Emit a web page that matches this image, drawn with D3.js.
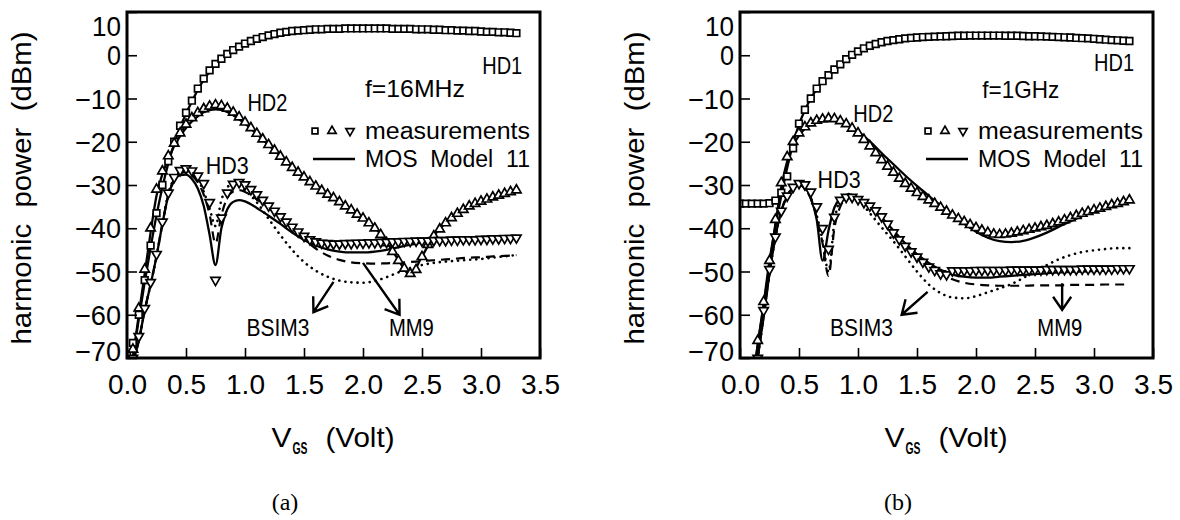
<!DOCTYPE html>
<html><head><meta charset="utf-8">
<script src="https://cdn.jsdelivr.net/npm/d3@7"></script>
<style>
body{margin:0;background:#fff;}
svg text{font-family:"Liberation Sans",Arial,sans-serif;fill:#000;white-space:pre;}
</style></head><body>
<svg id="c" width="1180" height="520"></svg>
<script>
// ---------- DATA ----------
const xTicks = [0.0,0.5,1.0,1.5,2.0,2.5,3.0,3.5];
const yTicks = [10,0,-10,-20,-30,-40,-50,-60,-70];

// measurement gate voltages (V)
const vgs = [0,0.05,0.1,0.15,0.2,0.25,0.3,0.35,0.4,0.45,
 0.5,0.55,0.6,0.65,0.7,0.75,0.8,0.85,0.9,0.95,
 1.0,1.05,1.1,1.15,1.2,1.25,1.3,1.35,1.4,1.45,
 1.5,1.55,1.6,1.65,1.7,1.75,1.8,1.85,1.9,1.95,
 2.0,2.05,2.1,2.15,2.2,2.25,2.3,2.35,2.4,2.45,
 2.5,2.55,2.6,2.65,2.7,2.75,2.8,2.85,2.9,2.95,
 3.0,3.05,3.1,3.15,3.2,3.25,3.3];
// simulation gate voltages (V)
const vModel = [0.05,0.1,0.15,0.2,0.25,0.3,0.35,0.4,0.45,0.5,
 0.55,0.6,0.65,0.7,0.75,0.8,0.85,0.9,0.95,1.0,
 1.1,1.2,1.3,1.4,1.5,1.6,1.7,1.8,1.9,2.0,
 2.1,2.2,2.3,2.4,2.5,2.6,2.7,2.8,2.9,3.0,
 3.1,3.2,3.3];

// ---- (a) f = 16 MHz : measurements ----
const measHD1_a = [-69.5,-66.5,-60,-52,-44,-36.5,-30,-24.5,-20,-16.3,
 -13.3,-10.5,-7.7,-5.4,-3.5,-2,-0.8,0.3,1.2,2.0,
 2.7,3.3,3.8,4.2,4.6,4.9,5.2,5.4,5.6,5.7,
 5.8,5.9,6.0,6.0,6.1,6.1,6.1,6.2,6.2,6.2,
 6.2,6.2,6.2,6.2,6.2,6.1,6.1,6.1,6.1,6.0,
 6.0,6.0,5.9,5.9,5.8,5.8,5.7,5.7,5.6,5.6,
 5.5,5.4,5.4,5.3,5.3,5.2,5.1];
const measHD2_a = [-71,-68,-58.5,-49.5,-40,-31,-26.8,-23.3,-20.4,-18,
 -16,-14.5,-13.3,-12.4,-11.8,-11.5,-11.7,-12.3,-13.2,-14.3,
 -15.5,-16.8,-18.1,-19.4,-20.7,-22,-23.4,-24.7,-26,-27.1,
 -28.2,-29.3,-30.3,-31.3,-32.2,-33,-33.9,-34.9,-35.8,-36.8,
 -37.7,-38.8,-40,-41.5,-43.4,-45.4,-47.5,-49.3,-50.5,-49.6,
 -46.6,-43.8,-41.8,-40.2,-38.8,-37.6,-36.6,-35.7,-34.9,-34.3,
 -33.8,-33.3,-32.8,-32.4,-32,-31.6,-31.2];
const measHD3_a = [-71,-70,-65,-58.5,-52.5,-46,-38.5,-31.8,-28.2,-26.6,
 -26.2,-26.7,-27.9,-29.6,-34,-52,-37.6,-31.8,-29.8,-29.4,
 -29.9,-31,-32.2,-33.5,-34.8,-36,-37.3,-38.5,-39.7,-40.8,
 -41.8,-42.6,-43.1,-43.4,-43.5,-43.6,-43.6,-43.5,-43.5,-43.4,
 -43.4,-43.3,-43.3,-43.2,-43.2,-43.1,-43.1,-43,-43,-42.9,
 -42.9,-42.9,-42.8,-42.8,-42.8,-42.7,-42.7,-42.6,-42.6,-42.6,
 -42.5,-42.5,-42.4,-42.4,-42.3,-42.3,-42.2];
// ---- (a) simulations ----
const mos11HD1_a = [-70,-61,-52.5,-44.5,-37,-30.5,-25,-20.5,-16.7,-13.5,
 -10.7,-8,-5.7,-3.8,-2.2,-1,0.1,1.0,1.8,2.5,
 3.7,4.5,5.1,5.5,5.8,6.0,6.1,6.15,6.2,6.2,
 6.2,6.15,6.1,6.05,6.0,5.9,5.8,5.7,5.6,5.5,
 5.4,5.3,5.1];
const mos11HD2_a = [-70,-60,-50.5,-41,-32.5,-27.5,-24,-21,-18.7,-16.8,
 -15.3,-14.1,-13.2,-12.7,-12.5,-12.6,-13.1,-13.9,-14.8,-15.8,
 -18.2,-20.8,-23.3,-25.8,-28,-30.1,-32,-33.8,-35.6,-37.5,
 -39.8,-43.2,-47.3,-50.8,-46.5,-41.8,-38.8,-36.6,-35,-33.8,
 -32.8,-32,-31.3];
const mos11HD3_a = [-71,-66,-59,-53,-46.5,-39,-32.5,-29,-27.7,-27.6,
 -28.6,-30.8,-34.8,-41.5,-48.5,-40,-35.6,-33.9,-33.5,-33.8,
 -35.3,-37.1,-39,-41,-42.7,-44,-44.9,-45.4,-45.6,-45.6,
 -45.4,-45,-44.4,-43.8,-43.3,-43,-42.8,-42.7,-42.6,-42.5,
 -42.4,-42.3,-42.2];
const mm9HD3_a = [-71,-66,-59,-53,-46.5,-39,-32.3,-28.7,-27.3,-27,
 -27.8,-29.4,-32.2,-36.8,-43.5,-37,-33,-31.5,-31.2,-31.6,
 -33.3,-35.3,-37.5,-40,-42.5,-44.7,-46.3,-47.3,-47.9,-48.1,
 -48.2,-48.1,-48,-47.8,-47.6,-47.4,-47.2,-47,-46.8,-46.7,
 -46.5,-46.4,-46.2];
const bsim3HD3_a = [-71,-66,-59,-53,-46.5,-39,-32,-28.5,-27,-26.7,
 -27.3,-28.8,-31.5,-35.5,-39.5,-33.5,-30.5,-29.8,-30.2,-31.3,
 -34,-37.8,-41.6,-45,-47.8,-49.8,-51.2,-52.1,-52.5,-52.6,
 -52.2,-51.3,-50.2,-49.2,-48.5,-48,-47.7,-47.5,-47.3,-47.1,
 -46.8,-46.5,-46.2];

// ---- (b) f = 1 GHz : measurements ----
const measHD1_b = [-34.3,-34.3,-34.3,-34.3,-34.3,-34.2,-33.6,-31.8,-28,-21.5,
 -15.8,-12.6,-10,-7.7,-6,-4.6,-3.3,-2.1,-0.9,0.1,
 0.9,1.6,2.2,2.6,3.0,3.3,3.5,3.7,3.9,4.0,
 4.1,4.2,4.25,4.3,4.35,4.4,4.45,4.5,4.5,4.55,
 4.55,4.55,4.55,4.55,4.55,4.5,4.5,4.5,4.45,4.4,
 4.4,4.35,4.3,4.25,4.2,4.15,4.1,4.0,3.95,3.9,
 3.8,3.7,3.6,3.5,3.45,3.35,3.3];
const measHD2_b = [null,null,null,-66,-57,-47.5,-38,-29.5,-23.5,-20,
 -18,-16.6,-15.7,-15.1,-14.8,-14.6,-14.7,-15.2,-15.9,-16.9,
 -18,-19.5,-21,-22.6,-24.2,-25.7,-27.1,-28.5,-29.7,-30.8,
 -31.8,-32.7,-33.5,-34.3,-35.2,-36.1,-37,-37.8,-38.5,-39.2,
 -39.9,-40.5,-41,-41.4,-41.5,-41.4,-41.2,-40.9,-40.6,-40.3,
 -40,-39.7,-39.4,-39,-38.6,-38.1,-37.6,-37.1,-36.6,-36.2,
 -35.8,-35.4,-35,-34.6,-34.3,-33.9,-33.5];
const measHD3_b = [null,null,null,-70,-59,-49.5,-42,-36,-32.5,-30.5,
 -29.6,-29.9,-31.6,-35,-40,-44.8,-37.4,-33.5,-32.8,-32.8,
 -33.3,-34,-34.8,-35.9,-37.3,-39,-41,-42.6,-44.1,-45.4,
 -46.6,-47.8,-48.9,-49.7,-50.5,-50.7,-49.8,-49.8,-49.8,-49.8,
 -49.7,-49.7,-49.7,-49.7,-49.7,-49.7,-49.6,-49.6,-49.6,-49.6,
 -49.6,-49.6,-49.5,-49.5,-49.5,-49.5,-49.5,-49.5,-49.4,-49.4,
 -49.4,-49.4,-49.4,-49.4,-49.3,-49.3,-49.3];
// ---- (b) simulations ----
const mos11HD1_b = [null,-77,-67,-57.5,-47.5,-39.5,-32.5,-26,-20.5,-16,
 -12.7,-10,-7.8,-6,-4.5,-3.2,-2,-0.9,0.1,0.9,
 2.2,3.0,3.5,3.9,4.1,4.25,4.35,4.45,4.5,4.55,
 4.55,4.55,4.5,4.45,4.4,4.3,4.2,4.1,3.95,3.8,
 3.6,3.45,3.3];
const mos11HD2_b = [null,-78,-67,-58,-48.5,-39,-30.5,-24.5,-20.8,-18.6,
 -17,-16,-15.3,-14.9,-14.8,-14.9,-15.3,-15.9,-16.7,-17.6,
 -19.9,-22.6,-25.2,-27.8,-30.2,-32.5,-34.8,-37,-39,-40.8,
 -42.2,-43,-43.2,-42.9,-42.1,-41,-39.7,-38.4,-37.2,-36.1,
 -35.1,-34.3,-33.7];
const mos11HD3_b = [null,-80,-70,-60.5,-50.5,-42,-36,-32.6,-30.8,-30.1,
 -30.6,-33,-38,-47.5,-40.5,-35.2,-33.2,-32.6,-32.7,-33.2,
 -35,-37.5,-40.5,-43.5,-46,-48,-49.6,-50.7,-51.2,-51.4,
 -51.4,-51.2,-51,-50.8,-50.6,-50.4,-50.2,-50.1,-50,-49.9,
 -49.8,-49.7,-49.6];
const mm9HD3_b = [null,-80,-70,-60.5,-50.5,-42,-36,-32.5,-30.6,-30,
 -30.8,-33.2,-37.5,-43.5,-51,-40,-35,-33.2,-32.9,-33.3,
 -35,-37.8,-41,-44,-46.5,-48.7,-50.5,-51.8,-52.6,-53,
 -53.2,-53.3,-53.3,-53.3,-53.2,-53.2,-53.2,-53.1,-53.1,-53.1,
 -53,-53,-53];
const bsim3HD3_b = [null,-80,-70,-60.5,-50.5,-42,-36,-32.5,-30.7,-30.3,
 -31,-33,-37,-43,-50,-38.5,-33.3,-32,-32.4,-33.4,
 -36.5,-39.8,-43,-46.5,-50,-53,-55,-56,-56.2,-55.7,
 -54.8,-53.9,-52.9,-51.5,-50,-48.5,-47.2,-46.2,-45.5,-45.1,
 -44.8,-44.6,-44.6];

// annotations: [text, V, dBm, width in px]
const labels_a = [["HD1",3.18,-2.3,40],["f=16MHz",2.44,-7.6,100],["HD2",1.19,-11,40],["HD3",0.85,-25.4,43],["BSIM3",1.28,-63,63],["MM9",2.41,-63,45]];
const arrows_a = [[1.75,-52.4,1.58,-59.4],[2.0,-48,2.31,-60]];
const labels_b = [["HD1",3.17,-1.6,40],["f=1GHz",2.38,-8,77],["HD2",1.13,-13.4,40],["HD3",0.84,-28.6,43],["BSIM3",1.03,-63,63],["MM9",2.71,-63,45]];
const arrows_b = [[1.59,-54.7,1.37,-60],[2.73,-52.7,2.73,-58.9]];

// ---------- DRAW ----------
const svg = d3.select('#c');
const TOP = 12, BOTTOM = 358;
const panels = [
  {id:'a', left:127, right:540, meas:[measHD1_a,measHD2_a,measHD3_a], mos:[mos11HD1_a,mos11HD2_a,mos11HD3_a], mm9:mm9HD3_a, bsim:bsim3HD3_a, labels:labels_a, arrows:arrows_a, cap:'(a)', capX:285},
  {id:'b', left:740, right:1153, meas:[measHD1_b,measHD2_b,measHD3_b], mos:[mos11HD1_b,mos11HD2_b,mos11HD3_b], mm9:mm9HD3_b, bsim:bsim3HD3_b, labels:labels_b, arrows:arrows_b, cap:'(b)', capX:898}
];
const sq = d3.symbol(d3.symbolSquare, 44)();
const tri = d3.symbol(d3.symbolTriangle, 38)();
const shapes = [{p:sq,r:0},{p:tri,r:0},{p:tri,r:180}];

panels.forEach(P => {
  const x = d3.scaleLinear().domain([0,3.5]).range([P.left, P.right]);
  const y = d3.scaleLinear().domain([-70,10]).range([BOTTOM, TOP]);
  const g = svg.append('g');
  const clip = 'clip-' + P.id;
  svg.append('clipPath').attr('id', clip).append('rect')
    .attr('x', P.left).attr('y', TOP).attr('width', P.right - P.left).attr('height', BOTTOM - TOP);
  const plot = g.append('g').attr('clip-path', `url(#${clip})`);

  const line = d3.line().defined(d => d[1] != null).x(d => x(d[0])).y(d => y(d[1])).curve(d3.curveMonotoneX);
  const toPts = (vs, arr) => vs.map((v,i) => [v, arr[i]]);

  // simulations
  plot.append('path').attr('d', line(toPts(vModel, P.bsim))).attr('fill','none').attr('stroke','#000')
    .attr('stroke-width',2.6).attr('stroke-dasharray','0.1 6').attr('stroke-linecap','round');
  plot.append('path').attr('d', line(toPts(vModel, P.mm9))).attr('fill','none').attr('stroke','#000')
    .attr('stroke-width',2.2).attr('stroke-dasharray','9 6');
  P.mos.forEach(arr => {
    plot.append('path').attr('d', line(toPts(vModel, arr))).attr('fill','none').attr('stroke','#000').attr('stroke-width',2.3);
  });
  // measurements
  P.meas.forEach((arr, k) => {
    plot.append('g').selectAll('path').data(toPts(vgs, arr).filter(d => d[1] != null)).join('path')
      .attr('d', shapes[k].p)
      .attr('transform', d => `translate(${x(d[0])},${y(d[1])}) rotate(${shapes[k].r})`)
      .attr('fill','#fff').attr('stroke','#000').attr('stroke-width',1.7);
  });

  // axes
  const ax = g.append('g').attr('transform', `translate(0,${BOTTOM})`)
    .call(d3.axisBottom(x).tickValues(xTicks).tickSize(-10).tickPadding(16).tickFormat(d3.format('.1f')));
  ax.select('.domain').remove();
  ax.selectAll('line').attr('stroke','#000').attr('stroke-width',1.6);
  ax.selectAll('text').attr('font-size',28).attr('font-family','"Liberation Sans",Arial,sans-serif')
    .attr('textLength',39).attr('lengthAdjust','spacingAndGlyphs');
  const ay = g.append('g').attr('transform', `translate(${P.left},0)`)
    .call(d3.axisLeft(y).tickValues(yTicks).tickSize(-10).tickPadding(6));
  ay.select('.domain').remove();
  ay.selectAll('line').attr('stroke','#000').attr('stroke-width',1.6);
  ay.selectAll('text').attr('font-size',28).attr('font-family','"Liberation Sans",Arial,sans-serif')
    .attr('textLength', d => d === 0 ? 14 : d > 0 ? 29 : 46).attr('lengthAdjust','spacingAndGlyphs')
    .attr('dy', d => d === 10 ? '0.85em' : d === -70 ? '0.08em' : '0.34em');

  // frame
  g.append('rect').attr('x',P.left).attr('y',TOP).attr('width',P.right-P.left).attr('height',BOTTOM-TOP)
    .attr('fill','none').attr('stroke','#000').attr('stroke-width',3);

  // axis titles
  const cx = (P.left+P.right)/2;
  g.append('text').attr('x',cx-62).attr('y',447).attr('font-size',28).attr('textLength',20).attr('lengthAdjust','spacingAndGlyphs').text('V');
  g.append('text').attr('x',cx-41).attr('y',454).attr('font-size',16).attr('font-weight','bold').attr('textLength',15).attr('lengthAdjust','spacingAndGlyphs').text('GS');
  g.append('text').attr('x',cx-8).attr('y',447).attr('font-size',28).attr('textLength',69).attr('lengthAdjust','spacingAndGlyphs').text('(Volt)');
  g.append('text').attr('transform',`translate(${P.left-96},${(TOP+BOTTOM)/2+3}) rotate(-90)`)
    .attr('text-anchor','middle').attr('font-size',28)
    .attr('textLength',313).attr('lengthAdjust','spacingAndGlyphs')
    .text('harmonic  power  (dBm)');

  // labels
  P.labels.forEach(([t,v,d,w]) => {
    g.append('text').attr('x',x(v)-w/2).attr('y',y(d)).attr('dy','0.36em')
      .attr('font-size',24).attr('textLength',w).attr('lengthAdjust','spacingAndGlyphs').text(t);
  });
  // arrows
  P.arrows.forEach(([v1,d1,v2,d2]) => {
    const x1=x(v1), y1=y(d1), x2=x(v2), y2=y(d2);
    const ang = Math.atan2(y1-y2, x1-x2), L = 16, sp = 0.6;
    const h1 = [x2+L*Math.cos(ang+sp), y2+L*Math.sin(ang+sp)];
    const h2 = [x2+L*Math.cos(ang-sp), y2+L*Math.sin(ang-sp)];
    g.append('path').attr('d',`M${x1},${y1}L${x2},${y2}M${h1[0]},${h1[1]}L${x2},${y2}L${h2[0]},${h2[1]}`)
      .attr('fill','none').attr('stroke','#000').attr('stroke-width',2.4).attr('stroke-linejoin','miter');
  });

  // legend
  const lg = g.append('g').attr('transform',`translate(${P.left},0)`);
  [188,205,223].forEach((dx,k) => {
    lg.append('path').attr('d', d3.symbol(k===0?d3.symbolSquare:d3.symbolTriangle, k===0?34:30)())
      .attr('transform',`translate(${dx},131) rotate(${shapes[k].r})`)
      .attr('fill','#fff').attr('stroke','#000').attr('stroke-width',1.7);
  });
  lg.append('text').attr('x',238).attr('y',131).attr('dy','0.36em').attr('font-size',23)
    .attr('textLength',165).attr('lengthAdjust','spacingAndGlyphs').text('measurements');
  lg.append('line').attr('x1',186).attr('x2',228).attr('y1',159).attr('y2',159).attr('stroke','#000').attr('stroke-width',2.3);
  lg.append('text').attr('x',238).attr('y',159).attr('dy','0.36em').attr('font-size',23)
    .attr('textLength',165).attr('lengthAdjust','spacingAndGlyphs').text('MOS  Model  11');

  // caption
  svg.append('text').attr('x',P.capX).attr('y',510).attr('text-anchor','middle').attr('font-size',24)
    .style('font-family','"Liberation Serif","Times New Roman",serif').text(P.cap);
});
</script>
</body></html>
